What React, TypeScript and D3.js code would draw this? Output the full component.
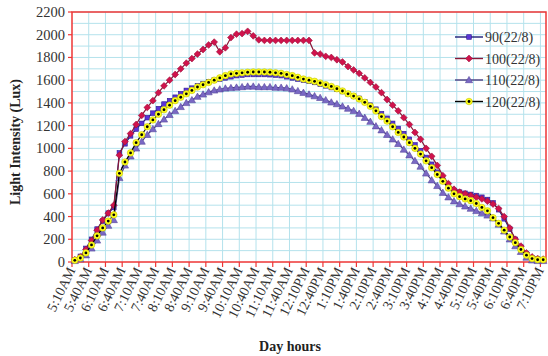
import React, { useEffect, useRef } from 'react';
import * as d3 from 'd3';

// tick labels, one for every third reading (readings are 10 minutes apart)
const tickLabels = [
  '5:10AM', '5:40AM', '6:10AM', '6:40AM', '7:10AM', '7:40AM', '8:10AM', '8:40AM',
  '9:10AM', '9:40AM', '10:10AM', '10:40AM', '11:10AM', '11:40AM', '12:10PM', '12:40PM',
  '1:10PM', '1:40PM', '2:10PM', '2:40PM', '3:10PM', '3:40PM', '4:10PM', '4:40PM',
  '5:10PM', '5:40PM', '6:10PM', '6:40PM', '7:10PM',
];
const labelStep = 3;

const yTicks = [0, 200, 400, 600, 800, 1000, 1200, 1400, 1600, 1800, 2000, 2200];

const s90 = [
  20, 50, 120, 200, 290, 360, 430, 480, 960, 1040, 1110, 1170, 1220, 1270, 1310, 1350,
  1390, 1420, 1450, 1480, 1510, 1530, 1550, 1570, 1585, 1600, 1610, 1620, 1630, 1640,
  1645, 1650, 1650, 1650, 1650, 1648, 1645, 1640, 1630, 1620, 1610, 1600, 1590, 1580,
  1565, 1550, 1535, 1520, 1500, 1480, 1460, 1440, 1410, 1380, 1345, 1305, 1265, 1220,
  1175, 1130, 1080, 1030, 980, 920, 860, 790, 720, 660, 630, 615, 605, 595, 585, 570,
  550, 520, 460, 380, 290, 200, 130, 70, 35, 25, 20,
];
const s100 = [
  20, 45, 110, 190, 280, 370, 430, 500, 940, 1060, 1130, 1210, 1290, 1360, 1420, 1490,
  1550, 1600, 1650, 1700, 1750, 1790, 1830, 1870, 1910, 1935, 1850, 1885, 1975, 2005,
  2010, 2030, 1990, 1955, 1950, 1950, 1950, 1950, 1950, 1950, 1950, 1950, 1950, 1840,
  1830, 1810, 1800, 1780, 1760, 1720, 1690, 1660, 1620, 1580, 1540, 1490, 1430, 1380,
  1330, 1270, 1210, 1140, 1080, 1000, 930, 850, 760, 690, 640, 615, 600, 585, 570, 555,
  535, 510, 470, 400, 300, 200, 140, 80, 45, 30, 25,
];
const s110 = [
  10, 25, 60, 120, 190, 260, 320, 370, 740, 850, 930, 1000, 1060, 1120, 1170, 1215,
  1255, 1295, 1330, 1365, 1400, 1425, 1455, 1475, 1495, 1510, 1520, 1528, 1532, 1536,
  1540, 1545, 1545, 1540, 1540, 1540, 1535, 1535, 1530, 1520, 1505, 1490, 1475, 1460,
  1445, 1425, 1405, 1390, 1370, 1350, 1330, 1305, 1270, 1235, 1195, 1160, 1120, 1080,
  1040, 990, 940, 890, 840, 780, 720, 670, 610, 570, 535, 510, 490, 470, 450, 430,
  410, 385, 330, 270, 200, 140, 90, 40, 15, 10, 10,
];
const s120 = [
  15, 35, 80, 150, 230, 300, 360, 415, 780, 880, 960, 1050, 1120, 1190, 1250, 1300,
  1340, 1380, 1420, 1450, 1480, 1510, 1540, 1560, 1580, 1600, 1620, 1640, 1655, 1660,
  1665, 1670, 1672, 1672, 1672, 1670, 1665, 1660, 1650, 1640, 1625, 1610, 1600, 1590,
  1575, 1560, 1545, 1525, 1505, 1480, 1460, 1435, 1405, 1370, 1330, 1280, 1240, 1190,
  1140, 1100, 1050, 1000, 950, 890, 830, 770, 710, 650, 600, 575, 555, 540, 515, 480,
  450, 390, 340, 280, 220, 170, 110, 60, 30, 20, 20,
];

const seriesNames = ['90(22/8)', '100(22/8)', '110(22/8)', '120(22/8)'];

const App = () => {
  const chartRef = useRef<SVGSVGElement | null>(null);

  useEffect(() => {
    const width = 548;
    const height = 356;
    const left = 72, right = 546, top = 12, bottom = 262;
    const font = '"Liberation Serif", "Times New Roman", serif';
    const red = '#ee3636';
    const grid = '#b4e2ec';

    const svg = d3.select(chartRef.current);
    svg.selectAll('*').remove();
    svg.attr('width', width).attr('height', height);

    svg.append('rect').attr('width', width).attr('height', height).attr('fill', '#fff');

    const n = s90.length;
    const x = d3.scaleBand<number>()
      .domain(d3.range(n))
      .range([left, right])
      .padding(0);
    const bw = x.bandwidth();
    const cx = (i: number) => (x(i) as number) + bw / 2;

    const y = d3.scaleLinear().domain([0, 2200]).range([bottom, top]);

    // horizontal grid (every 100)
    svg.append('g')
      .selectAll('line')
      .data(d3.range(100, 2201, 100))
      .enter()
      .append('line')
      .attr('x1', left).attr('x2', right)
      .attr('y1', d => y(d)).attr('y2', d => y(d))
      .attr('stroke', grid).attr('stroke-width', 1);

    // vertical grid at tick boundaries
    const boundaries = d3.range(labelStep, n, labelStep);
    svg.append('g')
      .selectAll('line')
      .data(boundaries)
      .enter()
      .append('line')
      .attr('x1', d => x(d) as number).attr('x2', d => x(d) as number)
      .attr('y1', top).attr('y2', bottom)
      .attr('stroke', grid).attr('stroke-width', 1);

    // plot border
    svg.append('rect')
      .attr('x', left).attr('y', top)
      .attr('width', right - left).attr('height', bottom - top)
      .attr('fill', 'none').attr('stroke', red).attr('stroke-width', 1.5);

    // x ticks
    svg.append('g')
      .selectAll('line')
      .data(d3.range(0, n, labelStep))
      .enter()
      .append('line')
      .attr('x1', d => x(d) as number).attr('x2', d => x(d) as number)
      .attr('y1', bottom).attr('y2', bottom + 5)
      .attr('stroke', red).attr('stroke-width', 1.2);

    // y ticks
    svg.append('g')
      .selectAll('line')
      .data(yTicks)
      .enter()
      .append('line')
      .attr('x1', left - 4).attr('x2', left)
      .attr('y1', d => y(d)).attr('y2', d => y(d))
      .attr('stroke', red).attr('stroke-width', 1.2);

    // y tick labels
    svg.append('g')
      .selectAll('text')
      .data(yTicks)
      .enter()
      .append('text')
      .attr('x', left - 7)
      .attr('y', d => y(d) + 5)
      .attr('text-anchor', 'end')
      .attr('font-family', font)
      .attr('font-size', 14.5)
      .attr('fill', '#333')
      .text(d => d);

    // x tick labels
    svg.append('g')
      .selectAll('text')
      .data(tickLabels)
      .enter()
      .append('text')
      .attr('transform', (d, k) => `translate(${cx(k * labelStep) + 1},${bottom + 8}) rotate(-64)`)
      .attr('text-anchor', 'end')
      .attr('font-family', font)
      .attr('font-size', 14)
      .attr('fill', '#333')
      .text(d => d);

    // axis titles
    svg.append('text')
      .attr('transform', `translate(20,${(top + bottom) / 2 + 5}) rotate(-90)`)
      .attr('text-anchor', 'middle')
      .attr('font-family', font)
      .attr('font-size', 14)
      .attr('font-weight', 'bold')
      .attr('fill', '#222')
      .text('Light Intensity (Lux)');

    svg.append('text')
      .attr('x', 290)
      .attr('y', 351)
      .attr('text-anchor', 'middle')
      .attr('font-family', font)
      .attr('font-size', 14)
      .attr('font-weight', 'bold')
      .attr('fill', '#222')
      .text('Day hours');

    const allSeries = [s90, s100, s110, s120];
    const lineColors = ['#1c1c78', '#8a1838', '#4a3c80', '#000000'];

    const drawMarker = (g: any, k: number, px: number, py: number, scale = 1) => {
      if (k === 0) {
        const s = 4.6 * scale;
        g.append('rect')
          .attr('x', px - s / 2).attr('y', py - s / 2)
          .attr('width', s).attr('height', s)
          .attr('fill', '#5b34d6').attr('stroke', '#2a1a90').attr('stroke-width', 0.6);
      } else if (k === 1) {
        const s = 3.4 * scale;
        g.append('path')
          .attr('d', `M${px},${py - s}L${px + s},${py}L${px},${py + s}L${px - s},${py}Z`)
          .attr('fill', '#d0134c').attr('stroke', '#9a0f3a').attr('stroke-width', 0.6);
      } else if (k === 2) {
        const s = 3.6 * scale;
        g.append('path')
          .attr('d', `M${px},${py - s}L${px + s},${py + s * 0.75}L${px - s},${py + s * 0.75}Z`)
          .attr('fill', '#7a68c4').attr('stroke', '#55469c').attr('stroke-width', 0.6);
      } else {
        g.append('circle')
          .attr('cx', px).attr('cy', py).attr('r', 3.3 * scale)
          .attr('fill', '#ffff1a').attr('stroke', '#b8b800').attr('stroke-width', 0.5);
        g.append('circle')
          .attr('cx', px).attr('cy', py).attr('r', 1.4 * scale)
          .attr('fill', '#000');
      }
    };

    const line = d3.line<number>()
      .x((d, i) => cx(i))
      .y(d => y(d));

    allSeries.forEach((data, k) => {
      const g = svg.append('g');
      g.append('path')
        .datum(data)
        .attr('fill', 'none')
        .attr('stroke', lineColors[k])
        .attr('stroke-width', 1.2)
        .attr('d', line);
      data.forEach((v, i) => drawMarker(g, k, cx(i), y(v)));
    });

    // legend
    const legend = svg.append('g');
    seriesNames.forEach((name, k) => {
      const ly = 37 + k * 21.5;
      legend.append('line')
        .attr('x1', 455).attr('x2', 483)
        .attr('y1', ly).attr('y2', ly)
        .attr('stroke', lineColors[k]).attr('stroke-width', 1.4);
      drawMarker(legend, k, 469, ly);
      legend.append('text')
        .attr('x', 485)
        .attr('y', ly + 5)
        .attr('font-family', font)
        .attr('font-size', 14)
        .attr('fill', '#333')
        .text(name);
    });
  }, []);

  return (
    <svg ref={chartRef} style={{ position: 'absolute', left: 0, top: 0 }}></svg>
  );
};

export default App;
